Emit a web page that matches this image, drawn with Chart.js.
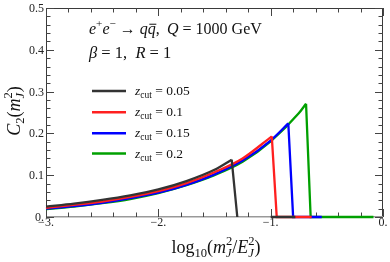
<!DOCTYPE html>
<html>
<head>
<meta charset="utf-8">
<script src="https://cdn.jsdelivr.net/npm/chart.js@4/dist/chart.umd.min.js"></script>
<style>
    html, body { margin: 0; padding: 0; background: #fff; }
    canvas { display: block; }
</style>
</head>
<body>
<canvas id="c2-chart" width="390" height="262"></canvas>
<script>
// Sample points along log10(m_J^2/E_J^2)
const logGrid = [-3.0, -2.75, -2.5, -2.25, -2.0, -1.75, -1.5, -1.25, -1.0, -0.75];

// C2(m_J^2) on the rising part of each curve (null = past the cut)
const c2Zcut005 = [0.025, 0.032, 0.041, 0.052, 0.066, 0.086, 0.113, null, null, null];
const c2Zcut01  = [0.022, 0.029, 0.037, 0.048, 0.062, 0.081, 0.107, 0.140, null, null];
const c2Zcut015 = [0.020, 0.026, 0.034, 0.045, 0.058, 0.077, 0.102, 0.135, 0.183, null];
const c2Zcut02  = [0.019, 0.025, 0.033, 0.043, 0.057, 0.076, 0.100, 0.132, 0.181, 0.248];

// End of each curve: peak, drop to zero, then the flat piece at zero
const zcutLabels = ['0.05', '0.1', '0.15', '0.2'];
const peakX = [-1.347, -0.99, -0.843, -0.685];
const peakY = [0.137, 0.193, 0.224, 0.271];
const dropX = [-1.297, -0.946, -0.80, -0.644];
const zeroFromX = [-1.0, -0.946, -0.80, -0.644];
const zeroToX = [-0.78, -0.635, -0.545, -0.085];

const xTickValues = [-3, -2, -1, 0];
const xTickLabels = ['−3.', '−2.', '−1.', '0.'];
const yTickValues = [0, 0.1, 0.2, 0.3, 0.4, 0.5];
const yTickLabels = ['0.', '0.1', '0.2', '0.3', '0.4', '0.5'];

const seriesColors = ['#333333', '#ff2020', '#0000ff', '#00a000'];
const SERIF = '"Liberation Serif", "DejaVu Serif", serif';

// smooth rising part, ends at the peak
function risePoints(values, i) {
    const pts = [];
    logGrid.forEach((x, k) => {
        if (values[k] !== null && x < peakX[i]) pts.push({ x: x, y: values[k] });
    });
    pts.push({ x: peakX[i], y: peakY[i] });
    return pts;
}

// straight drop from the peak and the flat zero piece
function dropPoints(i) {
    const pts = [{ x: peakX[i], y: peakY[i] }, { x: dropX[i], y: 0 }];
    if (zeroFromX[i] > dropX[i]) {
        pts.push({ x: (dropX[i] + zeroFromX[i]) / 2, y: null });
        pts.push({ x: zeroFromX[i], y: 0 });
    }
    pts.push({ x: zeroToX[i], y: 0 });
    return pts;
}

// Small rich text helper: italics, sub/superscripts, stacked scripts
function fontFor(size, italic) {
    return (italic ? 'italic ' : '') + size + 'px ' + SERIF;
}

function layoutRich(ctx, parts, size) {
    let x = 0, lastStart = 0;
    const items = [];
    parts.forEach(p => {
        const s = p.pos ? size * 0.7 : size;
        ctx.font = fontFor(s, p.it);
        const w = ctx.measureText(p.t).width;
        let dx = x;
        if (p.stack) {
            dx = lastStart;
            x = Math.max(x, lastStart + w);
        } else {
            lastStart = x;
            x += w;
        }
        const dy = p.pos === 'sup' ? -size * 0.4 : (p.pos === 'sub' ? size * 0.24 : 0);
        items.push({ p: p, s: s, dx: dx, dy: dy, w: w });
    });
    return { items: items, width: x };
}

function drawRich(ctx, parts, x, y, size, align) {
    const lay = layoutRich(ctx, parts, size);
    const x0 = align === 'center' ? x - lay.width / 2 : x;
    lay.items.forEach(it => {
        ctx.font = fontFor(it.s, it.p.it);
        ctx.fillText(it.p.t, x0 + it.dx, y + it.dy);
        if (it.p.bar) {
            ctx.beginPath();
            ctx.lineWidth = 1;
            ctx.moveTo(x0 + it.dx + 1.5, y - size * 0.58);
            ctx.lineTo(x0 + it.dx + it.w + 0.5, y - size * 0.58);
            ctx.stroke();
        }
    });
}

const framePlugin = {
    id: 'frame',
    beforeDatasetsDraw(chart) {
        const ctx = chart.ctx;
        const a = chart.chartArea;
        const xs = chart.scales.x, ys = chart.scales.y;
        ctx.save();
        ctx.lineWidth = 1;

        // frame: bottom edge is lighter
        ctx.strokeStyle = '#3a3a3a';
        ctx.beginPath();
        ctx.moveTo(a.left + 0.5, a.bottom);
        ctx.lineTo(a.left + 0.5, a.top + 0.5);
        ctx.lineTo(a.right - 0.5, a.top + 0.5);
        ctx.lineTo(a.right - 0.5, a.bottom);
        ctx.stroke();
        ctx.strokeStyle = '#999999';
        ctx.lineWidth = 1.5;
        ctx.beginPath();
        ctx.moveTo(a.left, a.bottom - 0.25);
        ctx.lineTo(a.right, a.bottom - 0.25);
        ctx.stroke();

        // ticks pointing inward
        ctx.lineWidth = 1;
        ctx.strokeStyle = '#444444';
        ctx.beginPath();
        for (let v = -3; v <= 0.001; v += 0.2) {
            const px = Math.round(xs.getPixelForValue(v)) + 0.5;
            const major = Math.abs(v - Math.round(v)) < 0.01;
            const len = major ? 8 : 4.5;
            ctx.moveTo(px, a.bottom); ctx.lineTo(px, a.bottom - len);
            ctx.moveTo(px, a.top); ctx.lineTo(px, a.top + len);
        }
        for (let v = 0; v <= 0.5001; v += 0.02) {
            const py = Math.round(ys.getPixelForValue(v)) + 0.5;
            const major = Math.abs(v * 10 - Math.round(v * 10)) < 0.01;
            const len = major ? 8 : 4.5;
            ctx.moveTo(a.left, py); ctx.lineTo(a.left + len, py);
            ctx.moveTo(a.right, py); ctx.lineTo(a.right - len, py);
        }
        ctx.stroke();

        // tick labels
        ctx.fillStyle = '#222222';
        ctx.font = '12px ' + SERIF;
        ctx.textAlign = 'center';
        xTickValues.forEach((v, k) => {
            ctx.fillText(xTickLabels[k], xs.getPixelForValue(v), a.bottom + 9);
        });
        ctx.textAlign = 'right';
        yTickValues.forEach((v, k) => {
            ctx.fillText(yTickLabels[k], a.left - 2, ys.getPixelForValue(v) + 4);
        });
        ctx.restore();
    },
    afterDatasetsDraw(chart) {
        const ctx = chart.ctx;
        ctx.save();
        ctx.fillStyle = '#111111';
        ctx.strokeStyle = '#111111';
        ctx.textAlign = 'left';

        // process and parameters
        drawRich(ctx, [
            { t: 'e', it: true }, { t: '+', pos: 'sup' },
            { t: 'e', it: true }, { t: '−', pos: 'sup' },
            { t: ' → ' },
            { t: 'q', it: true }, { t: 'q', it: true, bar: true },
            { t: ',\u2009 ' }, { t: 'Q', it: true }, { t: ' = 1000 GeV' }
        ], 89, 33.5, 16);
        drawRich(ctx, [
            { t: 'β', it: true }, { t: ' = 1,  ' },
            { t: 'R', it: true }, { t: ' = 1' }
        ], 89, 58, 16.5);

        // legend
        const legendY = [91, 112.2, 133.2, 153.6];
        zcutLabels.forEach((lab, i) => {
            ctx.strokeStyle = seriesColors[i];
            ctx.lineWidth = 2.5;
            ctx.beginPath();
            ctx.moveTo(92, legendY[i]);
            ctx.lineTo(126, legendY[i]);
            ctx.stroke();
            ctx.fillStyle = '#111111';
            drawRich(ctx, [
                { t: 'z', it: true }, { t: 'cut', pos: 'sub' }, { t: ' = ' + lab }
            ], 135, legendY[i] + 4, 13.5);
        });

        // axis titles
        ctx.fillStyle = '#111111';
        drawRich(ctx, [
            { t: 'log' }, { t: '10', pos: 'sub' }, { t: '(' },
            { t: 'm', it: true }, { t: 'J', it: true, pos: 'sub' }, { t: '2', pos: 'sup', stack: true },
            { t: '/' },
            { t: 'E', it: true }, { t: 'J', it: true, pos: 'sub' }, { t: '2', pos: 'sup', stack: true },
            { t: ')' }
        ], 216, 252.5, 18, 'center');

        ctx.translate(19.5, 111);
        ctx.rotate(-Math.PI / 2);
        drawRich(ctx, [
            { t: 'C', it: true }, { t: '2', pos: 'sub' }, { t: '(' },
            { t: 'm', it: true }, { t: 'J', it: true, pos: 'sub' }, { t: '2', pos: 'sup', stack: true },
            { t: ')' }
        ], 0, 0, 18, 'center');
        ctx.restore();
    }
};

const seriesValues = [c2Zcut005, c2Zcut01, c2Zcut015, c2Zcut02];

// dataset 0 is drawn on top, so keep rise and drop of one series together
const datasets = [];
seriesValues.forEach((vals, i) => {
    const common = {
        borderColor: seriesColors[i],
        borderWidth: 2.3,
        pointRadius: 0,
        spanGaps: false,
        clip: false,
        fill: false
    };
    datasets.push(Object.assign({
        label: 'zcut = ' + zcutLabels[i],
        data: risePoints(vals, i),
        cubicInterpolationMode: 'monotone'
    }, common));
    datasets.push(Object.assign({
        label: 'zcut = ' + zcutLabels[i] + ' (cut)',
        data: dropPoints(i),
        tension: 0
    }, common));
});

new Chart(document.getElementById('c2-chart').getContext('2d'), {
    type: 'line',
    data: { datasets: datasets },
    options: {
        responsive: false,
        animation: false,
        devicePixelRatio: 1,
        layout: { padding: { left: 46, right: 7, top: 8, bottom: 45 } },
        scales: {
            x: { type: 'linear', min: -3, max: 0, display: false },
            y: { type: 'linear', min: 0, max: 0.5, display: false }
        },
        plugins: {
            legend: { display: false },
            tooltip: { enabled: false }
        }
    },
    plugins: [framePlugin]
});
</script>
</body>
</html>
